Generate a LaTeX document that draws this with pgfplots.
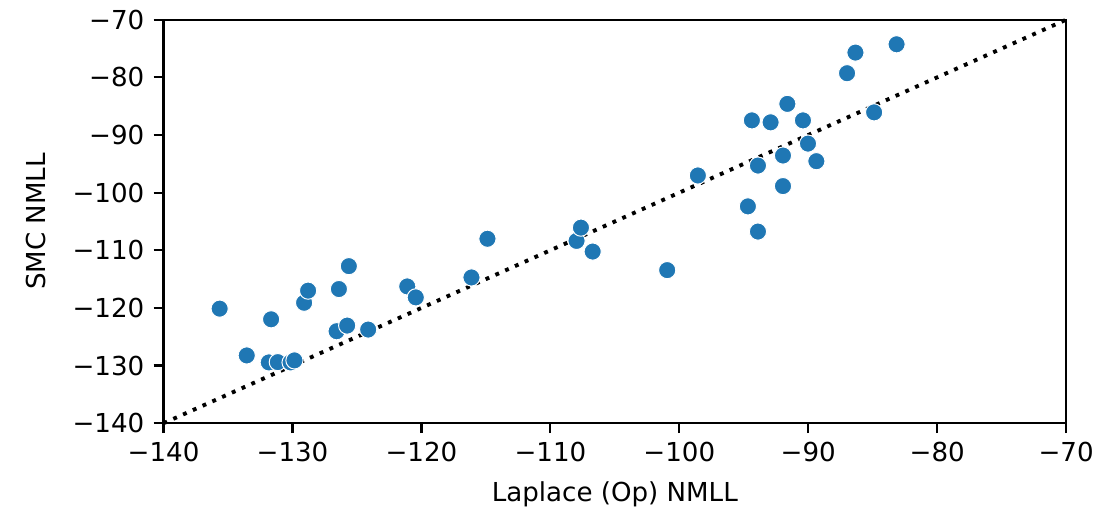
\documentclass[border=0pt]{standalone}
\usepackage{pgfplots}
\pgfplotsset{compat=1.18}
\usepackage{fontspec}
\setmainfont{DejaVu Sans}
\definecolor{mplblue}{HTML}{1F77B4}
\begin{document}
\fontsize{9.4}{11.2}\selectfont
\begin{tikzpicture}
\begin{axis}[
  name=ax,
  scale only axis,
  width=325pt, height=145.3pt,
  xmin=-140, xmax=-70, ymin=-140, ymax=-70,
  xtick={-140,-130,...,-70},
  ytick={-140,-130,...,-70},
  xticklabels={−140,−130,−120,−110,−100,−90,−80,−70},
  yticklabels={−140,−130,−120,−110,−100,−90,−80,−70},
  tick align=outside,
  tick pos=left,
  major tick length=3.6pt,
  every tick/.style={black, line width=0.8pt},
  axis line style={line width=0.8pt},
  xlabel={Laplace (Op) NMLL},
  ylabel={SMC NMLL},
  xlabel style={at={(xticklabel cs:0.5)}, anchor=north, yshift=-0.5pt},
  ylabel style={yshift=3pt},
  clip=false,
]
\addplot[black, line width=1.4pt, dash pattern=on 1.4pt off 2.45pt] coordinates {(-140,-140) (-70,-70)};
\addplot[only marks, mark=*, mark size=3.1pt, mark options={fill=mplblue, draw=white, line width=0.35pt}] coordinates {
(-135.65,-120.12)
(-133.55,-128.24)
(-131.66,-121.97)
(-131.84,-129.45)
(-131.14,-129.40)
(-130.15,-129.45)
(-129.85,-129.1)
(-129.10,-119.10)
(-128.79,-117.00)
(-126.58,-124.04)
(-125.76,-123.06)
(-126.40,-116.72)
(-125.63,-112.75)
(-124.13,-123.75)
(-121.10,-116.27)
(-120.44,-118.17)
(-116.12,-114.71)
(-114.88,-108.00)
(-107.97,-108.37)
(-107.63,-106.07)
(-106.72,-110.22)
(-100.94,-113.44)
(-98.56,-97.02)
(-94.68,-102.38)
(-93.90,-106.75)
(-93.90,-95.30)
(-94.37,-87.46)
(-92.92,-87.80)
(-91.62,-84.60)
(-91.96,-93.56)
(-91.96,-98.86)
(-90.41,-87.46)
(-90.02,-91.49)
(-89.37,-94.54)
(-86.99,-79.28)
(-86.34,-75.70)
(-84.89,-86.07)
(-83.15,-74.26)
};
\end{axis}
\pgfresetboundingbox
\path[use as bounding box] (-58.9pt,-32.0pt) rectangle (342.6pt,152.4pt);
\end{tikzpicture}
\end{document}
